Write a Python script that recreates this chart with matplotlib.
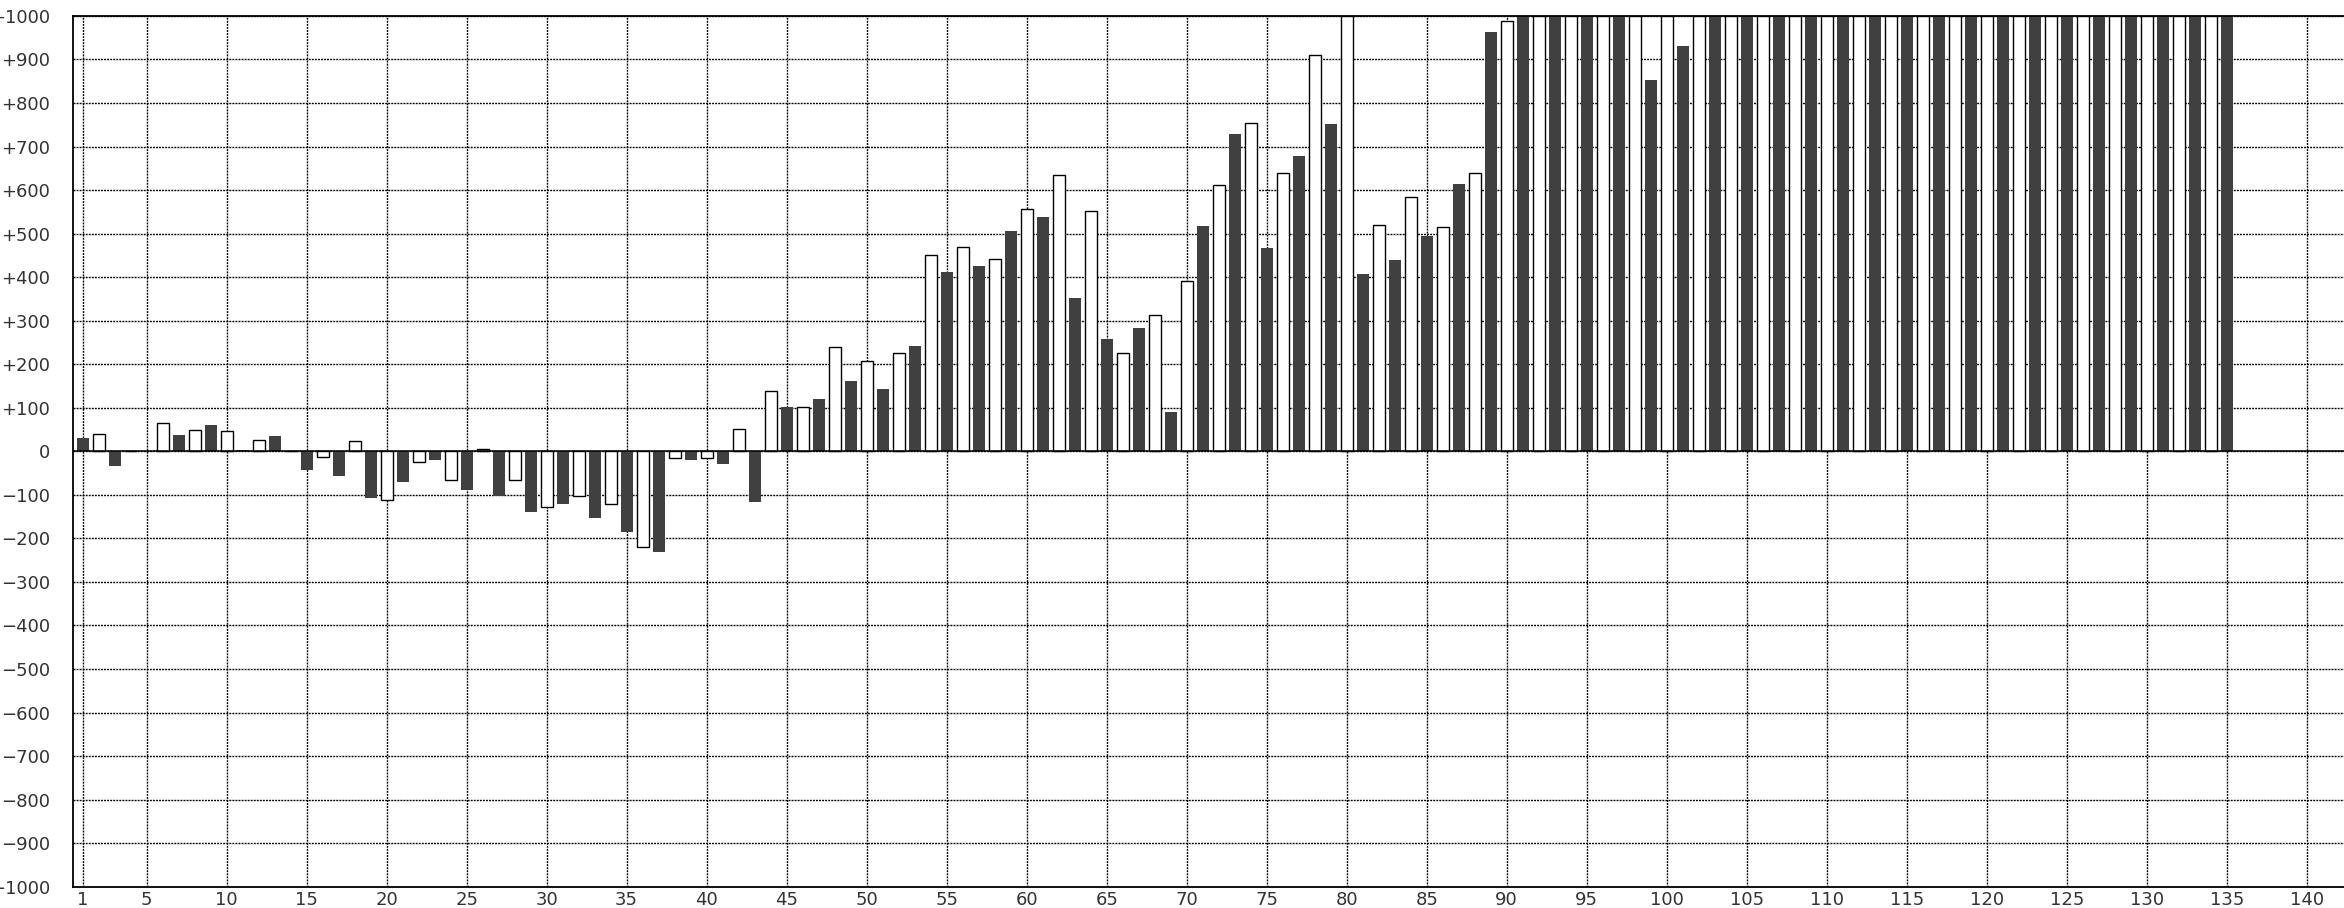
import matplotlib
matplotlib.use("Agg")
import matplotlib.pyplot as plt

# odd positions (1, 3, ..., 135) -> dark bars
dark_x = list(range(1, 136, 2))
dark_vals = [30, -34, 0, 38, 61, 2, 34, -44, -57, -108,
             -71, -20, -90, -103, -140, -122, -154, -186, -232, -21,
             -30, -117, 102, 121, 162, 144, 241, 411, 425, 507,
             539, 351, 259, 282, 90, 517, 729, 467, 678, 752,
             407, 439, 494, 614, 963, 1000, 1000, 1000, 1000, 853,
             931, 1000, 1000, 1000, 1000, 1000, 1000, 1000, 1000, 1000,
             1000, 1000, 1000, 1000, 1000, 1000, 1000, 1000]

# even positions (2, 4, ..., 134) -> white outlined bars
white_x = list(range(2, 135, 2))
white_vals = [40, 0, 64, 50, 46, 27, 0, -14, 23, -111,
              -24, -65, 5, -65, -129, -102, -120, -221, -15, -15,
              51, 138, 101, 239, 207, 225, 451, 469, 441, 556,
              634, 552, 225, 313, 391, 611, 754, 640, 911, 1000,
              520, 585, 516, 640, 989, 1000, 1000, 1000, 1000, 1000,
              1000, 1000, 1000, 1000, 1000, 1000, 1000, 1000, 1000, 1000,
              1000, 1000, 1000, 1000, 1000, 1000, 1000]

xticks = [1] + list(range(5, 141, 5))
yticks = list(range(-1000, 1001, 100))


def ylab(v):
    if v > 0:
        return f"+{v}"
    if v < 0:
        return f"\u2212{-v}"
    return "0"


fig = plt.figure(figsize=(23.44, 9.08), dpi=100)
ax = fig.add_axes([0.031, 0.0235, 0.969, 0.959])

ax.bar(dark_x, dark_vals, width=0.75, color="#404040", lw=0, zorder=2)
ax.bar(white_x, white_vals, width=0.75, color="white", edgecolor="black",
       lw=1.0, zorder=2)
ax.axhline(0, color="black", lw=1.1, zorder=3)

ax.set_xlim(0.375, 142.33)
ax.set_ylim(-1000, 1000)
ax.set_xticks(xticks)
ax.set_yticks(yticks)
ax.set_yticklabels([ylab(v) for v in yticks])
ax.tick_params(axis="both", length=0, labelsize=13, labelcolor="#333")
ax.tick_params(axis="y", pad=16)
ax.tick_params(axis="x", pad=3)
ax.grid(True, color="black", lw=1.0, ls=(0, (1.4, 0.8)), zorder=0)
ax.set_axisbelow(True)
for s in ["left", "top", "bottom"]:
    ax.spines[s].set_linewidth(1.3)
ax.spines["right"].set_visible(False)

fig.savefig("out.png", dpi=100)
